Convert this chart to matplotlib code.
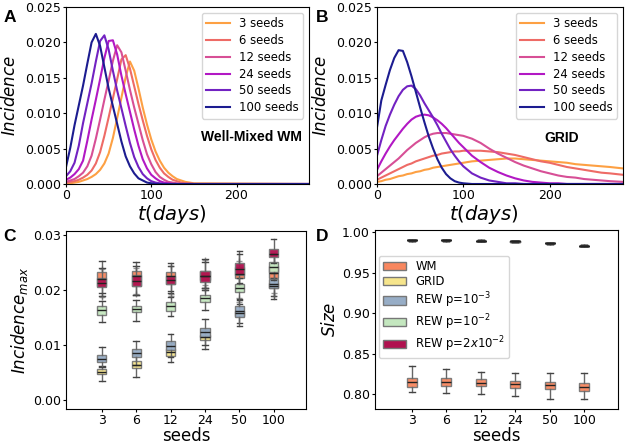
import matplotlib
matplotlib.use("Agg")
import matplotlib.pyplot as plt
from matplotlib.patches import Patch

# ---------------- data ----------------
seed_labels = ['3', '6', '12', '24', '50', '100']
curve_colors = ['#fda043', '#ee6b66', '#d74f96', '#b218c4', '#7222c2', '#1c1c90']

# panel A: Well-Mixed incidence curves
t_wm = [0, 5, 10, 15, 20, 25, 30, 35, 40, 45, 50, 55, 60, 65, 70, 75, 80, 85, 90, 95,
        100, 105, 110, 115, 120, 125, 130, 135, 140, 145, 150, 285]
wm_3 = [0.0001, 0.0001, 0.0002, 0.0003, 0.0005, 0.0007, 0.0010, 0.0014, 0.0020, 0.0029,
        0.0043, 0.0065, 0.0093, 0.0122, 0.0151, 0.0173, 0.0160, 0.0135, 0.0108, 0.0084,
        0.0063, 0.0046, 0.0033, 0.0023, 0.0016, 0.0011, 0.0007, 0.0005, 0.0003, 0.0002,
        0.0001, 0.0]
wm_6 = [0.0002, 0.0003, 0.0004, 0.0006, 0.0009, 0.0013, 0.0019, 0.0029, 0.0045, 0.0068,
        0.0094, 0.0121, 0.0148, 0.0176, 0.0182, 0.0163, 0.0138, 0.0113, 0.0090, 0.0068,
        0.0049, 0.0034, 0.0023, 0.0015, 0.0010, 0.0006, 0.0004, 0.0002, 0.0001, 0.0001,
        0.0, 0.0]
wm_12 = [0.0003, 0.0005, 0.0007, 0.0011, 0.0016, 0.0025, 0.0040, 0.0064, 0.0091, 0.0119,
         0.0146, 0.0174, 0.0196, 0.0186, 0.0160, 0.0133, 0.0108, 0.0085, 0.0062, 0.0042,
         0.0028, 0.0017, 0.0010, 0.0006, 0.0003, 0.0002, 0.0001, 0.0, 0.0, 0.0,
         0.0, 0.0]
wm_24 = [0.0006, 0.0009, 0.0014, 0.0021, 0.0033, 0.0061, 0.0091, 0.0119, 0.0148, 0.0178,
         0.0202, 0.0203, 0.0183, 0.0153, 0.0127, 0.0102, 0.0077, 0.0054, 0.0035, 0.0022,
         0.0013, 0.0008, 0.0004, 0.0002, 0.0001, 0.0, 0.0, 0.0, 0.0, 0.0,
         0.0, 0.0]
wm_50 = [0.0011, 0.0018, 0.0030, 0.0054, 0.0086, 0.0114, 0.0142, 0.0173, 0.0202, 0.0210,
         0.0190, 0.0160, 0.0132, 0.0107, 0.0082, 0.0058, 0.0038, 0.0024, 0.0014, 0.0008,
         0.0004, 0.0002, 0.0001, 0.0, 0.0, 0.0, 0.0, 0.0, 0.0, 0.0,
         0.0, 0.0]
wm_100 = [0.0024, 0.0051, 0.0083, 0.0111, 0.0139, 0.0170, 0.0200, 0.0212, 0.0195, 0.0165,
          0.0135, 0.0110, 0.0085, 0.0060, 0.0039, 0.0025, 0.0015, 0.0008, 0.0005, 0.0002,
          0.0001, 0.0, 0.0, 0.0, 0.0, 0.0, 0.0, 0.0, 0.0, 0.0,
          0.0, 0.0]

# panel B: GRID incidence curves
t_grid = [0, 5, 10, 15, 20, 25, 30, 35, 40, 45, 50, 55, 60, 65, 70, 75, 80, 85, 90, 95, 100,
          110, 120, 130, 140, 150, 160, 170, 180, 190, 200, 210, 220, 230, 240, 250, 260, 270, 285]
grid_3 = [0.0003, 0.0004, 0.0006, 0.0007, 0.0009, 0.0011, 0.0012, 0.0014, 0.0015, 0.0017,
          0.0018, 0.0020, 0.0021, 0.0023, 0.0024, 0.0025, 0.0026, 0.0027, 0.0028, 0.0029, 0.0030,
          0.0032, 0.0033, 0.0034, 0.0035, 0.0036, 0.0036, 0.0035, 0.0034, 0.0033, 0.0032,
          0.0031, 0.0030, 0.0028, 0.0027, 0.0026, 0.0025, 0.0024, 0.0022]
grid_6 = [0.0006, 0.0009, 0.0012, 0.0015, 0.0018, 0.0021, 0.0024, 0.0027, 0.0029, 0.0032,
          0.0034, 0.0036, 0.0038, 0.0040, 0.0041, 0.0043, 0.0044, 0.0045, 0.0046, 0.0046, 0.0047,
          0.0047, 0.0047, 0.0046, 0.0045, 0.0043, 0.0041, 0.0038, 0.0035, 0.0032, 0.0030,
          0.0027, 0.0024, 0.0022, 0.0020, 0.0018, 0.0016, 0.0015, 0.0013]
grid_12 = [0.0011, 0.0016, 0.0021, 0.0026, 0.0031, 0.0036, 0.0042, 0.0048, 0.0053, 0.0058,
           0.0062, 0.0066, 0.0069, 0.0071, 0.0072, 0.0072, 0.0072, 0.0071, 0.0070, 0.0069, 0.0068,
           0.0064, 0.0058, 0.0050, 0.0043, 0.0037, 0.0031, 0.0026, 0.0022, 0.0018, 0.0015,
           0.0012, 0.0010, 0.0009, 0.0007, 0.0006, 0.0005, 0.0004, 0.0003]
grid_24 = [0.0020, 0.0032, 0.0043, 0.0053, 0.0062, 0.0070, 0.0078, 0.0085, 0.0091, 0.0095,
           0.0097, 0.0098, 0.0097, 0.0094, 0.0090, 0.0085, 0.0079, 0.0072, 0.0065, 0.0058, 0.0052,
           0.0040, 0.0031, 0.0023, 0.0017, 0.0012, 0.0008, 0.0005, 0.0003, 0.0002, 0.0001,
           0.0001, 0.0, 0.0, 0.0, 0.0, 0.0, 0.0, 0.0]
grid_50 = [0.0040, 0.0062, 0.0082, 0.0098, 0.0112, 0.0124, 0.0133, 0.0138, 0.0139, 0.0134,
           0.0125, 0.0114, 0.0104, 0.0094, 0.0083, 0.0071, 0.0060, 0.0049, 0.0040, 0.0032, 0.0025,
           0.0015, 0.0009, 0.0005, 0.0003, 0.0001, 0.0001, 0.0, 0.0, 0.0, 0.0,
           0.0, 0.0, 0.0, 0.0, 0.0, 0.0, 0.0, 0.0]
grid_100 = [0.0080, 0.0118, 0.0140, 0.0161, 0.0178, 0.0189, 0.0188, 0.0172, 0.0152, 0.0130,
            0.0108, 0.0087, 0.0067, 0.0050, 0.0035, 0.0023, 0.0014, 0.0008, 0.0004, 0.0002, 0.0001,
            0.0, 0.0, 0.0, 0.0, 0.0, 0.0, 0.0, 0.0, 0.0, 0.0,
            0.0, 0.0, 0.0, 0.0, 0.0, 0.0, 0.0, 0.0]

# panel C: max incidence, (whislo, q1, med, q3, whishi) per seed
model_names = ['WM', 'GRID', r'REW p=$10^{-3}$', r'REW p=$10^{-2}$', r'REW p=$2x10^{-2}$']
model_colors = ['#f8875f', '#f6e58c', '#97adc6', '#c4e7bf', '#b0114f']

imax_wm = [(0.0190, 0.0207, 0.0221, 0.0234, 0.0254), (0.0191, 0.0207, 0.0226, 0.0236, 0.0251),
           (0.0196, 0.0212, 0.0226, 0.0233, 0.0249), (0.0205, 0.0219, 0.0226, 0.0236, 0.0257),
           (0.0208, 0.0222, 0.0230, 0.0243, 0.0272), (0.0206, 0.0222, 0.0232, 0.0245, 0.0268)]
imax_grid = [(0.0035, 0.0047, 0.0051, 0.0056, 0.0063), (0.0043, 0.0058, 0.0064, 0.0071, 0.0082),
             (0.0069, 0.0080, 0.0088, 0.0094, 0.0105), (0.0093, 0.0110, 0.0115, 0.0119, 0.0128),
             (0.0140, 0.0153, 0.0158, 0.0163, 0.0175), (0.0190, 0.0204, 0.0208, 0.0213, 0.0222)]
imax_rew3 = [(0.0060, 0.0069, 0.0075, 0.0083, 0.0097), (0.0065, 0.0078, 0.0086, 0.0093, 0.0107),
             (0.0078, 0.0092, 0.0099, 0.0107, 0.0120), (0.0100, 0.0115, 0.0124, 0.0131, 0.0147),
             (0.0135, 0.0152, 0.0162, 0.0171, 0.0185), (0.0185, 0.0205, 0.0212, 0.0220, 0.0232)]
imax_rew2 = [(0.0142, 0.0156, 0.0164, 0.0171, 0.0180), (0.0144, 0.0160, 0.0166, 0.0172, 0.0182),
             (0.0153, 0.0163, 0.0171, 0.0178, 0.0188), (0.0164, 0.0179, 0.0186, 0.0192, 0.0200),
             (0.0183, 0.0197, 0.0205, 0.0211, 0.0222), (0.0218, 0.0233, 0.0243, 0.0251, 0.0265)]
imax_rew22 = [(0.0195, 0.0206, 0.0214, 0.0222, 0.0240), (0.0192, 0.0207, 0.0217, 0.0228, 0.0245),
              (0.0198, 0.0211, 0.0219, 0.0226, 0.0245), (0.0205, 0.0216, 0.0226, 0.0235, 0.0252),
              (0.0213, 0.0228, 0.0239, 0.0249, 0.0266), (0.0250, 0.0260, 0.0267, 0.0275, 0.0294)]
imax_fliers = [[0.0190, 0.0187, 0.0238], [0.0193, 0.0240], [0.0193, 0.0190, 0.0244],
               [0.0210, 0.0204, 0.0200, 0.0256], [0.0178, 0.0186, 0.0254], [0.0190, 0.0195]]

# panel D: final size
size_wm = [(0.8025, 0.8094, 0.8148, 0.8197, 0.8349), (0.8012, 0.8107, 0.8148, 0.8197, 0.8308),
           (0.8000, 0.8102, 0.8143, 0.8185, 0.8271), (0.7979, 0.8081, 0.8127, 0.8168, 0.8266),
           (0.7938, 0.8065, 0.8115, 0.8155, 0.8266), (0.7938, 0.8044, 0.8094, 0.8143, 0.8266)]
size_other = [(0.9894, 0.9898, 0.9900, 0.9902, 0.9906), (0.9892, 0.9896, 0.9898, 0.9900, 0.9904),
              (0.9886, 0.9890, 0.9892, 0.9894, 0.9898), (0.9878, 0.9882, 0.9884, 0.9886, 0.9890),
              (0.9856, 0.9860, 0.9862, 0.9864, 0.9868), (0.9824, 0.9828, 0.9830, 0.9832, 0.9836)]

# ---------------- drawing ----------------
plt.rcParams['font.family'] = 'DejaVu Sans'
plt.rcParams['mathtext.fontset'] = 'dejavusans'
plt.rcParams['xtick.major.size'] = 2.2
plt.rcParams['ytick.major.size'] = 2.2
plt.rcParams['xtick.major.pad'] = 1.5
plt.rcParams['ytick.major.pad'] = 1.5
tick_fs = 9.0
label_fs = 12

fig = plt.figure(figsize=(6.25, 4.44), dpi=100)
axA = fig.add_axes([66/625, 1-184/444, 243/625, 177/444])
axB = fig.add_axes([377/625, 1-184/444, 246/625, 177/444])
axC = fig.add_axes([66/625, 1-409/444, 240/625, 178/444])
axD = fig.add_axes([375/625, 1-409/444, 243/625, 179/444])

def curves(ax, t, series, tag, tag_xy, tag_ha):
    for ys, c, lab in zip(series, curve_colors, seed_labels):
        ax.plot(t, ys, color=c, lw=1.5, label=lab + ' seeds')
    ax.set_xlim(0, 285)
    ax.set_ylim(0, 0.025)
    ax.set_xticks([0, 100, 200])
    ax.set_yticks([0, 0.005, 0.01, 0.015, 0.02, 0.025])
    ax.set_yticklabels(['%.3f' % v for v in [0, 0.005, 0.01, 0.015, 0.02, 0.025]])
    ax.tick_params(labelsize=tick_fs)
    ax.set_ylabel('$Incidence$', fontsize=label_fs, labelpad=4)
    ax.set_xlabel('$t(days)$', fontsize=14, va='top')
    ax.xaxis.set_label_coords(0.435, -0.108)
    ax.legend(loc='upper right', fontsize=8.4, labelspacing=0.32)
    ax.text(tag_xy[0], tag_xy[1], tag, transform=ax.transAxes, ha=tag_ha, va='center',
            fontsize=10, fontweight='bold', family='Liberation Sans')

curves(axA, t_wm, [wm_3, wm_6, wm_12, wm_24, wm_50, wm_100], 'Well-Mixed WM', (0.972, 0.266), 'right')
curves(axB, t_grid, [grid_3, grid_6, grid_12, grid_24, grid_50, grid_100], 'GRID', (0.75, 0.26), 'center')

positions = [1, 2, 3, 4, 5, 6]

def to_stats(rows, fliers=None):
    out = []
    for i, r in enumerate(rows):
        out.append(dict(whislo=r[0], q1=r[1], med=r[2], q3=r[3], whishi=r[4],
                        fliers=fliers[i] if fliers else []))
    return out

def boxes(ax, rows, color, fliers=None, width=0.27):
    ax.bxp(to_stats(rows, fliers), positions=positions, widths=width, patch_artist=True,
           capwidths=0.6*width, manage_ticks=False,
           boxprops=dict(facecolor=color, edgecolor='#777777', lw=1.0, alpha=0.95),
           medianprops=dict(color='#222222', lw=1.0),
           whiskerprops=dict(color='#666666', lw=1.0),
           capprops=dict(color='#444444', lw=1.0),
           flierprops=dict(marker='+', markeredgecolor='#555555', markersize=5, alpha=0.6))

c_rows = [imax_wm, imax_grid, imax_rew3, imax_rew2, imax_rew22]
for k, (rows, col) in enumerate(zip(c_rows, model_colors)):
    boxes(axC, rows, col, imax_fliers if k == 4 else None)
axC.set_xlim(-0.04, 6.94)
axC.set_ylim(-0.0016, 0.0308)
axC.set_yticks([0, 0.01, 0.02, 0.03])
axC.set_yticklabels(['0.00', '0.01', '0.02', '0.03'])
axC.set_xticks(positions)
axC.set_xticklabels(seed_labels)
axC.tick_params(labelsize=tick_fs)
axC.set_ylabel('$Incidence_{max}$', fontsize=label_fs, labelpad=2)
axC.set_xlabel('seeds', fontsize=label_fs, labelpad=0)

boxes(axD, size_wm, model_colors[0], width=0.29)
for col in model_colors[1:]:
    boxes(axD, size_other, col, width=0.29)
axD.set_xlim(-0.06, 6.98)
axD.set_ylim(0.782, 1.0025)
axD.set_yticks([0.80, 0.85, 0.90, 0.95, 1.00])
axD.set_yticklabels(['0.80', '0.85', '0.90', '0.95', '1.00'])
axD.set_xticks(positions)
axD.set_xticklabels(seed_labels)
axD.tick_params(labelsize=tick_fs)
axD.set_ylabel('$Size$', fontsize=label_fs, labelpad=2)
axD.set_xlabel('seeds', fontsize=label_fs, labelpad=0)
handles = [Patch(facecolor=c, edgecolor='#777777', label=n) for c, n in zip(model_colors, model_names)]
axD.legend(handles=handles, loc='upper left', bbox_to_anchor=(0.0, 0.875), borderaxespad=0.3,
           fontsize=8.4, labelspacing=0.2, borderpad=0.35)

for lab, x, y in [('A', 0.005, 0.978), ('B', 0.505, 0.978), ('C', 0.005, 0.485), ('D', 0.505, 0.485)]:
    fig.text(x, y, lab, fontsize=12.5, fontweight='bold', family='Liberation Sans', va='top')

fig.savefig('out.png', dpi=100)
